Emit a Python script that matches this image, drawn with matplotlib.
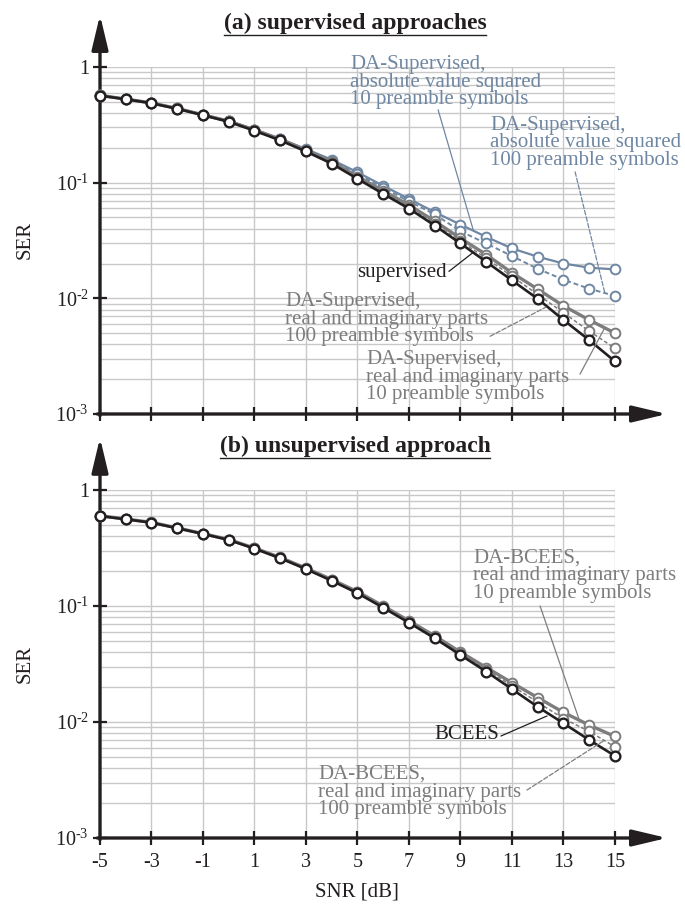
"""
SER against SNR for the supervised and the unsupervised approaches,
two stacked panels with hand drawn arrow axes, saved to out.png.
"""

import matplotlib.pyplot as plt
from matplotlib.lines import Line2D
from matplotlib.ticker import LogLocator, NullFormatter

plt.rcParams["font.family"] = ["Liberation Serif", "DejaVu Serif"]
plt.rcParams["mathtext.fontset"] = "custom"
plt.rcParams["mathtext.rm"] = "Liberation Serif"
plt.rcParams["mathtext.it"] = "Liberation Serif:italic"
plt.rcParams["mathtext.bf"] = "Liberation Serif:bold"


# Data
SNR_DB = list(range(-5, 16))

# (a) supervised approaches
SER_SUPERVISED = [0.566, 0.526, 0.486, 0.435, 0.383, 0.336, 0.281, 0.232, 0.186,
                  0.146, 0.108, 0.080, 0.0597, 0.0426, 0.0298, 0.0207, 0.0143,
                  0.0099, 0.0065, 0.00435, 0.00285]
SER_DA_RI_10 = [0.568, 0.528, 0.489, 0.438, 0.386, 0.340, 0.286, 0.237, 0.191,
                0.151, 0.113, 0.085, 0.064, 0.0465, 0.0330, 0.0239, 0.0166,
                0.0120, 0.0086, 0.0065, 0.0050]
SER_DA_RI_100 = [0.567, 0.527, 0.487, 0.436, 0.384, 0.338, 0.283, 0.234, 0.188,
                 0.148, 0.110, 0.082, 0.0615, 0.0443, 0.0312, 0.0222, 0.0155,
                 0.0108, 0.0075, 0.0052, 0.0037]
SER_DA_ABS_10 = [0.570, 0.530, 0.490, 0.440, 0.388, 0.342, 0.288, 0.240, 0.195,
                 0.158, 0.123, 0.094, 0.0723, 0.0556, 0.0434, 0.034, 0.027,
                 0.0229, 0.020, 0.0184, 0.0178]
SER_DA_ABS_100 = [0.569, 0.529, 0.489, 0.439, 0.387, 0.341, 0.287, 0.238, 0.193,
                  0.155, 0.119, 0.090, 0.069, 0.0532, 0.038, 0.0298, 0.0232,
                  0.018, 0.0145, 0.0121, 0.0105]

# (b) unsupervised approach
SER_BCEES = [0.597, 0.559, 0.523, 0.468, 0.418, 0.371, 0.312, 0.258, 0.208,
             0.165, 0.129, 0.0967, 0.0717, 0.0527, 0.0378, 0.0272, 0.0192,
             0.0135, 0.00975, 0.0070, 0.0051]
SER_DA_BCEES_10 = [0.600, 0.562, 0.526, 0.471, 0.421, 0.374, 0.316, 0.262, 0.212,
                   0.169, 0.133, 0.100, 0.0745, 0.0552, 0.0400, 0.0295, 0.0218,
                   0.0162, 0.0121, 0.0094, 0.0075]
SER_DA_BCEES_100 = [0.598, 0.560, 0.524, 0.469, 0.419, 0.372, 0.314, 0.260, 0.210,
                    0.167, 0.131, 0.098, 0.073, 0.054, 0.039, 0.0283, 0.0205,
                    0.0148, 0.0107, 0.0083, 0.0061]

X_TICKS = [-5, -3, -1, 1, 3, 5, 7, 9, 11, 13, 15]
X_TICK_LABELS = ["-5", "-3", "-1", "1", "3", "5", "7", "9", "11", "13", "15"]
Y_TICKS = [1e-3, 1e-2, 1e-1, 1]
Y_TICK_LABELS = [r"$10^{\text{-}3}$", r"$10^{\text{-}2}$", r"$10^{\text{-}1}$", "1"]

TITLES = ["(a) supervised approaches", "(b) unsupervised approach"]


# Styles
BLACK = "#231f20"
GRAY = "#7d7d7d"
BLUE = "#6f87a2"
GRID = "#c8c8c8"

# panel (a): drawn in this order, the black curve ends on top
PANEL_A = [
    (SER_DA_ABS_10, BLUE, 1.6, "-"),
    (SER_DA_ABS_100, BLUE, 1.4, (0, (2.5, 1.5))),
    (SER_DA_RI_10, GRAY, 2.4, "-"),
    (SER_DA_RI_100, GRAY, 1.1, (0, (2.5, 1.5))),
    (SER_SUPERVISED, BLACK, 1.9, "-"),
]
PANEL_B = [
    (SER_DA_BCEES_10, GRAY, 2.4, "-"),
    (SER_DA_BCEES_100, GRAY, 1.1, (0, (2.5, 1.5))),
    (SER_BCEES, BLACK, 1.9, "-"),
]

# text, color, text anchor (x, y), ha, leader start, leader end, leader style
LABELS_A = [
    ("DA-Supervised,\nabsolute value squared\n10 preamble symbols", BLUE,
     (4.71, 0.74), "left", (8.13, 0.426), (9.49, 0.0393), "-"),
    ("DA-Supervised,\nabsolute value squared\n100 preamble symbols", BLUE,
     (10.15, 0.221), "left", (13.45, 0.124), (14.61, 0.0110), "--"),
    ("supervised", BLACK,
     (8.48, 0.0168), "right", (8.55, 0.0171), (9.49, 0.0249), "-"),
    ("DA-Supervised,\nreal and imaginary parts\n100 preamble symbols", GRAY,
     (2.18, 0.0066), "left", (10.15, 0.0047), (12.32, 0.0084), "--"),
    ("DA-Supervised,\nreal and imaginary parts\n10 preamble symbols", GRAY,
     (5.33, 0.00208), "left", (13.64, 0.00221), (14.57, 0.0054), "-"),
]
LABELS_B = [
    ("DA-BCEES,\nreal and imaginary parts\n10 preamble symbols", GRAY,
     (9.49, 0.1815), "left", (12.09, 0.100), (13.64, 0.0100), "-"),
    ("BCEES", BLACK,
     (10.5, 0.00773), "right", (10.57, 0.00757), (12.36, 0.01127), "-"),
    ("DA-BCEES,\nreal and imaginary parts\n100 preamble symbols", GRAY,
     (3.47, 0.00249), "left", (11.58, 0.00259), (14.61, 0.0070), "--"),
]

FIG_W, FIG_H = 685, 907


def setup_axes(ax, show_xlabels):
    """
    log axes with the grid, cross ticks and the two arrow axes
    """
    ax.set_yscale("log")
    ax.set_xlim(-5, 15)
    ax.set_ylim(1e-3, 1)
    for spine in ax.spines.values():
        spine.set_visible(False)

    ax.set_xticks(X_TICKS, X_TICK_LABELS if show_xlabels else [])
    ax.set_yticks(Y_TICKS, Y_TICK_LABELS)
    ax.yaxis.set_minor_locator(LogLocator(base=10, subs=range(2, 10)))
    ax.yaxis.set_minor_formatter(NullFormatter())
    ax.tick_params(which="minor", length=0)
    ax.tick_params(which="major", direction="inout", length=10, width=1.6,
                   color=BLACK, labelsize=14.5, labelcolor=BLACK)
    ax.tick_params(axis="x", pad=6)
    ax.tick_params(axis="y", pad=3)

    ax.grid(which="both", axis="y", color=GRID, lw=1.0)
    ax.grid(which="major", axis="x", color=GRID, lw=1.0)
    ax.set_axisbelow(True)

    arrow = dict(arrowstyle="-|>,head_length=1.05,head_width=0.25",
                 mutation_scale=20, lw=2.4, color=BLACK,
                 shrinkA=0, shrinkB=0)
    ax.annotate("", xy=(1.101, 0), xytext=(-0.005, 0),
                xycoords="axes fraction", arrowprops=arrow, annotation_clip=False)
    ax.annotate("", xy=(0, 1.15), xytext=(0, -0.005),
                xycoords="axes fraction", arrowprops=arrow, annotation_clip=False)


def draw_curves(ax, series):
    """
    one line with white circle markers for each (values, color, lw, ls)
    """
    for z, (values, color, lw, ls) in enumerate(series):
        ax.plot(SNR_DB, values, color=color, lw=lw, ls=ls, marker="o",
                ms=7.0, mfc="white", mec=color,
                mew=1.7 if color == BLACK else 1.4, zorder=3 + z,
                clip_on=False)


def draw_labels(ax, labels):
    """
    multi line labels with thin leader lines to the curves
    """
    for text, color, pos, ha, start, end, ls in labels:
        ax.text(pos[0], pos[1], text, color=color, fontsize=15, ha=ha,
                va="center", linespacing=0.9, zorder=10)
        ax.annotate("", xy=end, xytext=start,
                    arrowprops=dict(arrowstyle="-", color=color, lw=0.9,
                                    ls=ls, shrinkA=0, shrinkB=0),
                    annotation_clip=False, zorder=10)


fig = plt.figure(figsize=(FIG_W / 100, FIG_H / 100), dpi=100)

ax_a = fig.add_axes([100 / FIG_W, (FIG_H - 414) / FIG_H, 515 / FIG_W, 347 / FIG_H])
ax_b = fig.add_axes([100 / FIG_W, (FIG_H - 838) / FIG_H, 515 / FIG_W, 348 / FIG_H])

setup_axes(ax_a, show_xlabels=False)
setup_axes(ax_b, show_xlabels=True)
draw_curves(ax_a, PANEL_A)
draw_curves(ax_b, PANEL_B)
draw_labels(ax_a, LABELS_A)
draw_labels(ax_b, LABELS_B)

fig.text(25 / FIG_W, 1 - 240 / FIG_H, "SER", rotation=90, fontsize=15,
         ha="center", va="center", color=BLACK)
fig.text(25 / FIG_W, 1 - 664 / FIG_H, "SER", rotation=90, fontsize=15,
         ha="center", va="center", color=BLACK)
fig.text(357 / FIG_W, 1 - 892 / FIG_H, "SNR [dB]", fontsize=15,
         ha="center", va="center", color=BLACK)

# titles, underlined by hand since matplotlib has no underline
title_artists = []
for title, y_px in zip(TITLES, (23, 446)):
    t = fig.text(355 / FIG_W, 1 - y_px / FIG_H, title, fontsize=17,
                 fontweight="bold", ha="center", va="center", color=BLACK)
    title_artists.append(t)

fig.canvas.draw()
renderer = fig.canvas.get_renderer()
for t in title_artists:
    bb = t.get_window_extent(renderer)
    y = (bb.y0 - 1) / FIG_H
    fig.add_artist(Line2D([bb.x0 / FIG_W, bb.x1 / FIG_W], [y, y],
                          transform=fig.transFigure, color=BLACK, lw=1.0))

fig.savefig("out.png", dpi=100)
